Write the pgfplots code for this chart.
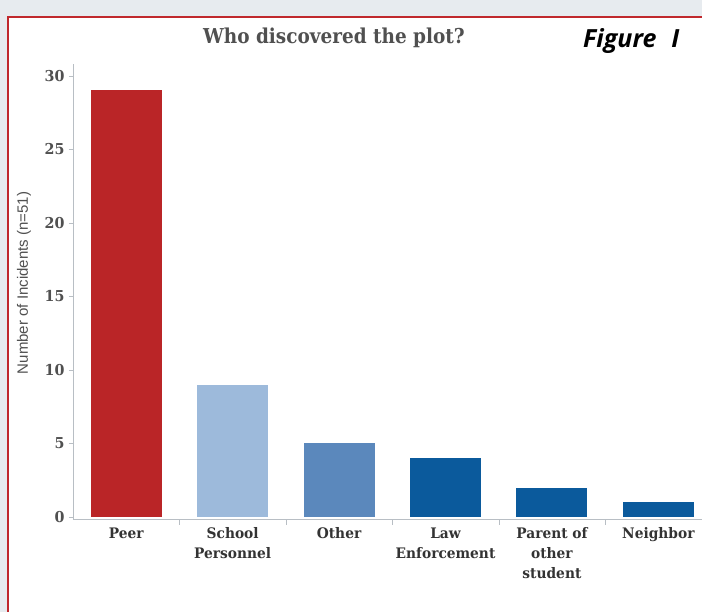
\documentclass[border=0pt]{standalone}
\usepackage{pgfplots}
\pgfplotsset{compat=1.18}
\usepackage{fontspec}
\setmainfont{DejaVu Serif}
\newfontfamily\titlefont[FakeStretch=0.9]{DejaVu Serif}
\newfontfamily\catfont[FakeStretch=0.95]{DejaVu Serif}
\newfontfamily\figfont{Open Sans}
\newfontfamily\ylabfont{Liberation Sans}

\definecolor{bgout}{HTML}{E7EBEF}
\definecolor{frame}{HTML}{C0282D}
\definecolor{peer}{HTML}{BA2527}
\definecolor{school}{HTML}{9DBADB}
\definecolor{other}{HTML}{5B88BC}
\definecolor{law}{HTML}{0B5A9C}
\definecolor{txt}{HTML}{505050}
\definecolor{cattxt}{HTML}{333333}
\definecolor{axgray}{HTML}{B8BEC4}

\begin{document}
\begin{tikzpicture}[x=1pt,y=1pt]
  \useasboundingbox (0,0) rectangle (702,612);
  % page and frame
  \fill[bgout] (0,0) rectangle (702,612);
  \fill[white] (8,0) rectangle (702,595);
  \draw[frame, line width=2.5pt] (8,0) -- (8,595) -- (702,595);

  \begin{axis}[
      at={(73pt,93pt)}, anchor=south west,
      scale only axis,
      width=629pt, height=455pt,
      xmin=-0.5, xmax=5.41,
      ymin=-0.14, ymax=30.8,
      axis x line=bottom, axis y line=left,
      axis line style={axgray, -},
      ybar, bar width=71pt, bar shift=0pt,
      ytick={0,5,...,30},
      xtick={0,...,5},
      xticklabels={Peer, School\\Personnel, Other, Law\\Enforcement, Parent of\\other\\student, Neighbor},
      minor xtick={0.5,1.5,...,4.5},
      x tick style={draw=none},
      minor x tick style={draw=axgray},
      minor tick length=6pt,
      y tick style={axgray},
      major tick length=4pt,
      tick align=outside,
      xticklabel style={align=center, font=\catfont\bfseries\fontsize{14.5}{20}\selectfont, text=cattxt, yshift=-1pt},
      yticklabel style={font=\catfont\bfseries\fontsize{15}{16}\selectfont, text=txt, xshift=-1pt},
      /pgf/number format/assume math mode=true,
      clip=false,
    ]
    \addplot[fill=peer, draw=none] coordinates {(0,29)};
    \addplot[fill=school, draw=none] coordinates {(1,9)};
    \addplot[fill=other, draw=none] coordinates {(2,5)};
    \addplot[fill=law, draw=none] coordinates {(3,4)};
    \addplot[fill=law, draw=none] coordinates {(4,2)};
    \addplot[fill=law, draw=none] coordinates {(5,1)};
  \end{axis}

  % title and figure tag
  \node[anchor=base, text=txt, font=\titlefont\bfseries\fontsize{20.5}{24}\selectfont] at (334,568) {Who discovered the plot?};
  \node[anchor=base west, inner sep=0pt, font=\figfont\bfseries\itshape\fontsize{25}{30}\selectfont] at (583,564) {Figure\hspace{0.6em}I};
  % y label
  \node[rotate=90, text=txt, font=\ylabfont\fontsize{15}{18}\selectfont] at (24,329) {Number of Incidents (n=51)};
\end{tikzpicture}
\end{document}
